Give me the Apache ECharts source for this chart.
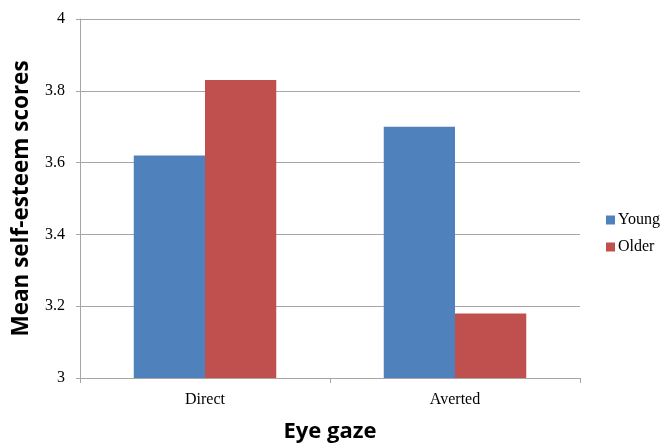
<!DOCTYPE html>
<html>
<head>
<meta charset="utf-8">
<script src="https://cdn.jsdelivr.net/npm/echarts@6/dist/echarts.min.js"></script>
<style>
  html, body { margin: 0; padding: 0; background: #fff; }
  #chart { width: 665px; height: 444px; }
</style>
</head>
<body>
<div id="chart"></div>
<script>
// Mean self-esteem by eye gaze condition and age group
const categories = ['Direct', 'Averted'];
const young = [3.62, 3.70];
const older = [3.83, 3.18];
const yTicks = [3, 3.2, 3.4, 3.6, 3.8, 4];

const serif = 'Times New Roman, Liberation Serif, serif';
const sans = 'Open Sans';
const gray = '#a6a6a6';

const chart = echarts.init(document.getElementById('chart'), null, { renderer: 'canvas' });
chart.setOption({
  animation: false,
  backgroundColor: '#fff',
  textStyle: { fontFamily: serif },
  grid: { left: 80, right: 85, top: 19, bottom: 66, containLabel: false, outerBoundsMode: 'none' },
  legend: {
    orient: 'vertical',
    left: 601,
    top: 207,
    itemWidth: 9,
    itemHeight: 9,
    itemGap: 11,
    icon: 'rect',
    textStyle: { fontFamily: serif, fontSize: 16, color: '#000', padding: [0, 0, 0, -2] },
    data: ['Young', 'Older']
  },
  xAxis: {
    type: 'category',
    data: categories,
    name: 'Eye gaze',
    nameLocation: 'middle',
    nameGap: 43,
    nameTextStyle: { fontFamily: sans, fontWeight: 'bold', fontSize: 22, color: '#000' },
    axisLine: { lineStyle: { color: gray, width: 1 } },
    axisTick: { show: true, length: 5, lineStyle: { color: gray } },
    axisLabel: { fontFamily: serif, fontSize: 16, color: '#000', margin: 14 }
  },
  yAxis: {
    type: 'value',
    min: yTicks[0],
    max: yTicks[yTicks.length - 1],
    interval: 0.2,
    name: 'Mean self-esteem scores',
    nameLocation: 'middle',
    nameGap: 47,
    nameTextStyle: { fontFamily: sans, fontWeight: 'bold', fontSize: 22.5, color: '#000' },
    axisLine: { show: true, lineStyle: { color: gray, width: 1 } },
    axisTick: { show: true, length: 4, lineStyle: { color: gray } },
    splitLine: { lineStyle: { color: gray, width: 1 } },
    axisLabel: {
      fontFamily: serif, fontSize: 16, color: '#000', margin: 15,
      formatter: v => String(Math.round(v * 10) / 10)
    }
  },
  series: [
    {
      name: 'Young', type: 'bar', data: young,
      barGap: '0%', barCategoryGap: '43%',
      itemStyle: { color: '#4f81bd' }
    },
    {
      name: 'Older', type: 'bar', data: older,
      itemStyle: { color: '#c0504d' }
    }
  ]
});
</script>
</body>
</html>
